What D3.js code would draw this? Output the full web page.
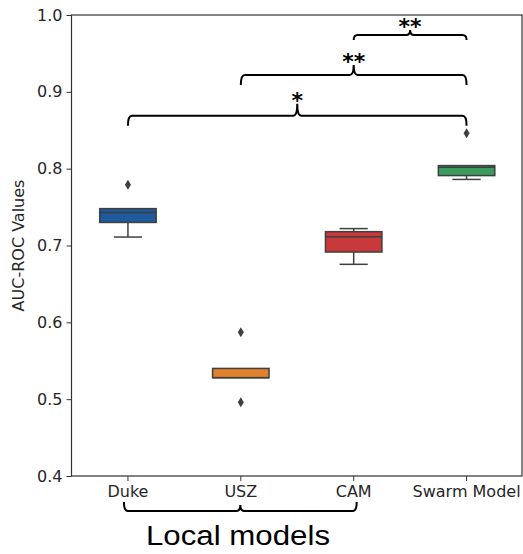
<!DOCTYPE html>
<html>
<head>
<meta charset="utf-8">
<script src="https://cdn.jsdelivr.net/npm/d3@7"></script>
<style>
  body { margin: 0; background: #fff; }
  svg { display: block; }
</style>
</head>
<body>
<div id="chart"></div>
<script>
// values
const categories = ["Duke", "USZ", "CAM", "Swarm Model"];
const whiskerLow = [0.711, 0.528, 0.6755, 0.786];
const q1 = [0.730, 0.528, 0.6915, 0.791];
const median = [0.743, 0.528, 0.7115, 0.802];
const q3 = [0.748, 0.540, 0.718, 0.804];
const whiskerHigh = [0.748, 0.540, 0.722, 0.804];
const outliers = [[0.779], [0.587, 0.496], [], [0.846]];
const boxColors = ["#1f5a9f", "#e2812b", "#c8393b", "#3b9d5d"];
const yTicks = [0.4, 0.5, 0.6, 0.7, 0.8, 0.9, 1.0];

// significance brackets
const pairFrom = ["Duke", "USZ", "CAM"];
const pairTo = ["Swarm Model", "Swarm Model", "Swarm Model"];
const pairLevel = [0.869, 0.922, 0.974];
const pairLabel = ["*", "**", "**"];
const groupFrom = "Duke";
const groupTo = "CAM";
const groupLabel = "Local models";

const W = 523, H = 554;
const LEFT = 71.5, RIGHT = 523, TOP = 15, BOTTOM = 476;

const svg = d3.select("#chart").append("svg")
  .attr("width", W).attr("height", H)
  .style("font-family", "'DejaVu Sans', sans-serif");

const x = d3.scaleBand().domain(categories).range([LEFT, RIGHT]).padding(0);
const y = d3.scaleLinear().domain([0.4, 1.0]).range([BOTTOM, TOP]);
const bw = x.bandwidth();
const cx = (c) => x(c) + bw / 2;
const boxW = bw * 0.5;
const EDGE = "#3f3f3f";

// boxes
const g = svg.append("g");
categories.forEach((c, i) => {
  const xc = cx(c);
  // whiskers
  g.append("line").attr("x1", xc).attr("x2", xc)
    .attr("y1", y(whiskerLow[i])).attr("y2", y(q1[i]))
    .attr("stroke", EDGE).attr("stroke-width", 1.5);
  g.append("line").attr("x1", xc).attr("x2", xc)
    .attr("y1", y(whiskerHigh[i])).attr("y2", y(q3[i]))
    .attr("stroke", EDGE).attr("stroke-width", 1.5);
  [whiskerLow[i], whiskerHigh[i]].forEach(v => {
    if (v === q1[i] || v === q3[i]) return;
    g.append("line").attr("x1", xc - boxW / 4).attr("x2", xc + boxW / 4)
      .attr("y1", y(v)).attr("y2", y(v))
      .attr("stroke", EDGE).attr("stroke-width", 1.5);
  });
  g.append("rect")
    .attr("x", xc - boxW / 2).attr("width", boxW)
    .attr("y", y(q3[i])).attr("height", y(q1[i]) - y(q3[i]))
    .attr("fill", boxColors[i]).attr("stroke", EDGE).attr("stroke-width", 1.5);
  g.append("line").attr("x1", xc - boxW / 2).attr("x2", xc + boxW / 2)
    .attr("y1", y(median[i])).attr("y2", y(median[i]))
    .attr("stroke", EDGE).attr("stroke-width", 1.5);
  outliers[i].forEach(v => {
    const py = y(v);
    g.append("path")
      .attr("d", `M${xc},${py - 5}L${xc + 3},${py}L${xc},${py + 5}L${xc - 3},${py}Z`)
      .attr("fill", EDGE);
  });
});

// axes
const yAxis = svg.append("g").attr("transform", `translate(${LEFT},0)`)
  .call(d3.axisLeft(y).tickValues(yTicks).tickFormat(d3.format(".1f")).tickSize(5).tickPadding(4));
const xAxis = svg.append("g").attr("transform", `translate(0,${BOTTOM})`)
  .call(d3.axisBottom(x).tickSize(5).tickPadding(5));
[yAxis, xAxis].forEach(a => {
  a.select(".domain").remove();
  a.selectAll(".tick line").attr("stroke", "#333");
  a.selectAll("text").attr("fill", "#262626").style("font-size", "16px")
    .style("font-family", "'DejaVu Sans', sans-serif");
});

svg.append("rect")
  .attr("x", LEFT).attr("y", TOP)
  .attr("width", RIGHT - 1 - LEFT).attr("height", BOTTOM - TOP)
  .attr("fill", "none").attr("stroke", "#333").attr("stroke-width", 1.2);

svg.append("text")
  .attr("transform", `translate(24,${(TOP + BOTTOM) / 2}) rotate(-90)`)
  .attr("text-anchor", "middle")
  .attr("fill", "#262626").style("font-size", "16px")
  .text("AUC-ROC Values");

// bracket path helper
function bracket(x1, x2, yl, drop, tick, r) {
  const xm = (x1 + x2) / 2;
  const s = Math.sign(drop), t = -s;
  return `M${x1},${yl + drop}` +
    `Q${x1},${yl} ${x1 + r},${yl}` +
    `L${xm - r},${yl}Q${xm},${yl} ${xm},${yl + t * tick}` +
    `Q${xm},${yl} ${xm + r},${yl}` +
    `L${x2 - r},${yl}Q${x2},${yl} ${x2},${yl + drop}`;
}

const drops = [10, 10, 5];
const ticks = [12, 10, 5];
pairFrom.forEach((f, i) => {
  const x1 = cx(f), x2 = cx(pairTo[i]);
  const yl = y(pairLevel[i]);
  svg.append("path")
    .attr("d", bracket(x1, x2, yl, drops[i], ticks[i], 4))
    .attr("fill", "none").attr("stroke", "#000").attr("stroke-width", 2);
  svg.append("text")
    .attr("x", (x1 + x2) / 2).attr("y", yl - ticks[i] + 4)
    .attr("text-anchor", "middle")
    .style("font-size", "22px").style("font-weight", "bold")
    .text(pairLabel[i]);
});

// local models brace below the ticks
const gx1 = cx(groupFrom) - 4, gx2 = cx(groupTo) + 3;
const gy = 511;
svg.append("path")
  .attr("d", bracket(gx1, gx2, gy, -9, -6, 4))
  .attr("fill", "none").attr("stroke", "#000").attr("stroke-width", 2);
svg.append("text")
  .attr("x", 146).attr("y", 545)
  .attr("textLength", 184).attr("lengthAdjust", "spacingAndGlyphs")
  .style("font-family", "'Liberation Sans', Arial, sans-serif")
  .style("font-size", "27px")
  .text(groupLabel);
</script>
</body>
</html>
